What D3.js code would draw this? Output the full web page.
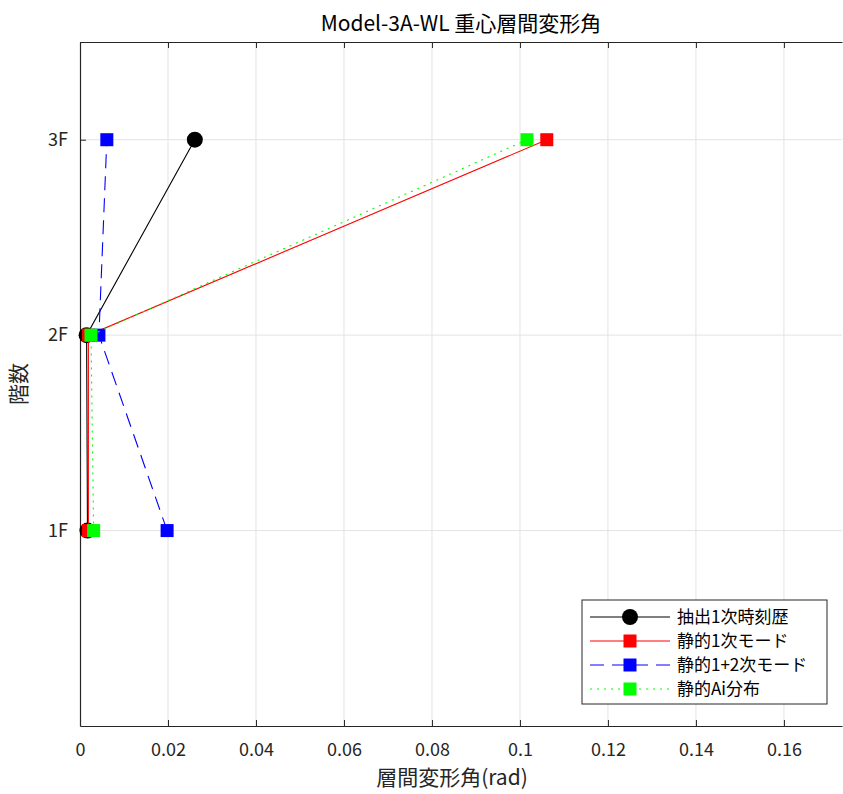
<html>
<head>
<script src="https://d3js.org/d3.v7.min.js"></script>
<style>
  body { margin: 0; background: #fff; }
  text { font-family: "Noto Sans CJK JP", "Noto Sans", sans-serif; }
</style>
</head>
<body>
<script>
  // floors and drift values
  const floors = [1, 2, 3];
  const floorLabels = ["1F", "2F", "3F"];
  const extracted = [0.0017, 0.0015, 0.0261];   // 抽出1次時刻歴
  const static1 = [0.0019, 0.0019, 0.1061];     // 静的1次モード
  const static12 = [0.0198, 0.0043, 0.0061];    // 静的1+2次モード
  const staticAi = [0.0031, 0.0025, 0.1016];    // 静的Ai分布
  const xTicks = [0, 0.02, 0.04, 0.06, 0.08, 0.1, 0.12, 0.14, 0.16];

  const W = 843, H = 794;
  const m = { left: 80, right: 1, top: 42, bottom: 68 };

  const svg = d3.select("body").append("svg").attr("width", W).attr("height", H);

  const x = d3.scaleLinear().domain([0, 0.1732]).range([m.left, W - m.right]);
  const y = d3.scaleLinear().domain([0, 3.5]).range([H - m.bottom, m.top]);

  // grid
  svg.append("g").selectAll("line").data(xTicks.slice(1)).join("line")
    .attr("x1", d => x(d)).attr("x2", d => x(d))
    .attr("y1", m.top).attr("y2", H - m.bottom)
    .attr("stroke", "#e3e3e3");
  svg.append("g").selectAll("line").data(floors).join("line")
    .attr("x1", m.left).attr("x2", W - m.right)
    .attr("y1", d => y(d)).attr("y2", d => y(d))
    .attr("stroke", "#e3e3e3");

  // axes
  const xAxis = svg.append("g").attr("transform", `translate(0,${H - m.bottom})`)
    .call(d3.axisBottom(x).tickValues(xTicks).tickFormat(d3.format("~g")).tickSizeInner(-6).tickSizeOuter(0).tickPadding(17));
  const xTop = svg.append("g").attr("transform", `translate(0,${m.top})`)
    .call(d3.axisTop(x).tickValues(xTicks).tickFormat("").tickSizeInner(-6).tickSizeOuter(0));
  const yAxis = svg.append("g").attr("transform", `translate(${m.left},0)`)
    .call(d3.axisLeft(y).tickValues(floors).tickFormat((d, i) => floorLabels[i]).tickSizeInner(-6).tickSizeOuter(0).tickPadding(12));
  [xAxis, xTop, yAxis].forEach(g => {
    g.select(".domain").attr("stroke", "#262626").attr("stroke-width", 1.2);
    g.selectAll(".tick line").attr("stroke", "#262626");
    g.selectAll(".tick text").attr("fill", "#262626").style("font-size", "18px");
  });

  // series
  const series = [
    { name: "抽出1次時刻歴", vals: extracted, color: "#000000", dash: null, shape: "circle" },
    { name: "静的1次モード", vals: static1, color: "#ff0000", dash: null, shape: "square" },
    { name: "静的1+2次モード", vals: static12, color: "#0000ff", dash: "14,8", shape: "square" },
    { name: "静的Ai分布", vals: staticAi, color: "#00ff00", dash: "2,5", shape: "square" }
  ];

  const line = d3.line().x(d => x(d[0])).y(d => y(d[1]));

  series.forEach(s => {
    const pts = s.vals.map((v, i) => [v, floors[i]]);
    svg.append("path").attr("d", line(pts))
      .attr("fill", "none").attr("stroke", s.color).attr("stroke-width", 1.1)
      .attr("stroke-dasharray", s.dash);
    if (s.shape === "circle") {
      svg.append("g").selectAll("circle").data(pts).join("circle")
        .attr("cx", d => x(d[0])).attr("cy", d => y(d[1])).attr("r", 8)
        .attr("fill", s.color);
    } else {
      svg.append("g").selectAll("rect").data(pts).join("rect")
        .attr("x", d => x(d[0]) - 6.5).attr("y", d => y(d[1]) - 6.5)
        .attr("width", 13).attr("height", 13).attr("fill", s.color);
    }
  });

  // legend
  const lg = svg.append("g").attr("transform", "translate(582,600)");
  lg.append("rect").attr("width", 245).attr("height", 104)
    .attr("fill", "#fff").attr("stroke", "#262626").attr("stroke-width", 1);
  series.forEach((s, i) => {
    const yy = 17 + i * 24;
    lg.append("line").attr("x1", 8).attr("x2", 88).attr("y1", yy).attr("y2", yy)
      .attr("stroke", s.color).attr("stroke-width", 1.1).attr("stroke-dasharray", s.dash);
    if (s.shape === "circle") {
      lg.append("circle").attr("cx", 48).attr("cy", yy).attr("r", 8).attr("fill", s.color);
    } else {
      lg.append("rect").attr("x", 41.5).attr("y", yy - 6.5).attr("width", 13).attr("height", 13).attr("fill", s.color);
    }
    lg.append("text").attr("x", 95).attr("y", yy).attr("dy", "0.35em")
      .style("font-size", "17px").attr("fill", "#000").text(s.name);
  });

  // labels
  svg.append("text").attr("x", (m.left + W - m.right) / 2).attr("y", 31)
    .attr("text-anchor", "middle").style("font-size", "21px").attr("fill", "#000")
    .text("Model-3A-WL 重心層間変形角");
  svg.append("text").attr("x", 452).attr("y", 785)
    .attr("text-anchor", "middle").style("font-size", "21px").attr("fill", "#262626")
    .text("層間変形角(rad)");
  svg.append("text").attr("transform", `translate(26,${(m.top + H - m.bottom) / 2}) rotate(-90)`)
    .attr("text-anchor", "middle").style("font-size", "21px").attr("fill", "#262626")
    .text("階数");
</script>
</body>
</html>
